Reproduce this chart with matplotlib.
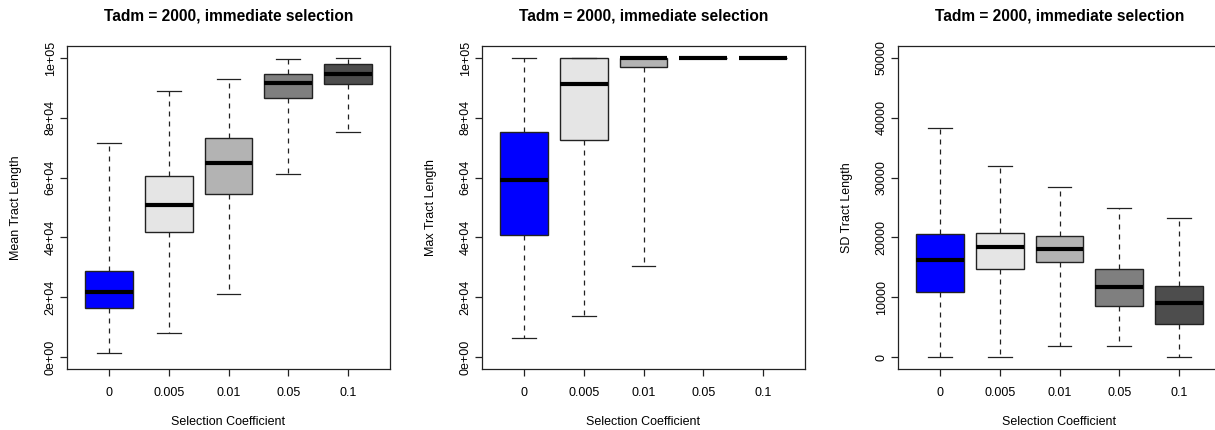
import matplotlib
matplotlib.use("Agg")
import matplotlib.pyplot as plt

plt.rcParams['font.family'] = ['Liberation Sans', 'DejaVu Sans']

coef_labels = ['0', '0.005', '0.01', '0.05', '0.1']
box_colors = ['#0000FF', '#E5E5E5', '#B3B3B3', '#7F7F7F', '#4D4D4D']

# whisker low, q1, median, q3, whisker high for each selection coefficient
mean_low = [1300, 8200, 21100, 61200, 75400]
mean_q1 = [16400, 41700, 54500, 86600, 91300]
mean_med = [21700, 50900, 64900, 91600, 94700]
mean_q3 = [28900, 60600, 73200, 94600, 97900]
mean_high = [71700, 89100, 93000, 99800, 100000]

max_low = [6500, 13600, 30500, 100000, 100000]
max_q1 = [40800, 72600, 97000, 100000, 100000]
max_med = [59100, 91300, 100000, 100000, 100000]
max_q3 = [75300, 100000, 100000, 100000, 100000]
max_high = [100000, 100000, 100000, 100000, 100000]

sd_low = [0, 0, 1900, 1900, 0]
sd_q1 = [10900, 14800, 15900, 8500, 5600]
sd_med = [16200, 18400, 18100, 11700, 9000]
sd_q3 = [20500, 20800, 20300, 14800, 11800]
sd_high = [38300, 32000, 28400, 25000, 23300]

big_ticks = [0, 20000, 40000, 60000, 80000, 100000]
big_ticklabels = ['0e+00', '2e+04', '4e+04', '6e+04', '8e+04', '1e+05']
sd_ticks = [0, 10000, 20000, 30000, 40000, 50000]
sd_ticklabels = ['0', '10000', '20000', '30000', '40000', '50000']

title = 'Tadm = 2000, immediate selection'
W, H = 1215, 430


def make_stats(low, q1, med, q3, high):
    return [dict(whislo=a, q1=b, med=c, q3=d, whishi=e, fliers=[])
            for a, b, c, d, e in zip(low, q1, med, q3, high)]


def draw_panel(left, stats, ylabel, ylim, ticks, ticklabels):
    ax = fig.add_axes([left / W, (H - 369) / H, 323 / W, 323 / H])
    bp = ax.bxp(stats, positions=range(1, 6), widths=0.8, capwidths=0.4,
                patch_artist=True, showfliers=False,
                boxprops=dict(edgecolor='#222222', linewidth=1.0),
                whiskerprops=dict(color='#222222', linewidth=0.9,
                                  linestyle=(0, (4, 4))),
                capprops=dict(color='#222222', linewidth=0.9),
                medianprops=dict(color='black', linewidth=3.0,
                                 solid_capstyle='butt'))
    for patch, col in zip(bp['boxes'], box_colors):
        patch.set_facecolor(col)
    ax.set_xlim(0.3, 5.7)
    ax.set_ylim(*ylim)
    ax.set_xticks(range(1, 6))
    ax.set_xticklabels(coef_labels, fontsize=9)
    ax.set_yticks(ticks)
    ax.set_yticklabels(ticklabels, fontsize=9, rotation=90, va='center')
    ax.tick_params(direction='out', length=5, width=0.9, color='#222222')
    ax.tick_params(axis='x', pad=8)
    ax.tick_params(axis='y', pad=2.5)
    for sp in ax.spines.values():
        sp.set_color('#222222')
        sp.set_linewidth(0.9)
    ax.set_xlabel('Selection Coefficient', fontsize=9, labelpad=12)
    ax.set_ylabel(ylabel, fontsize=9, labelpad=16)
    ax.set_title(title, fontsize=11.2, fontweight='bold', pad=18.5)
    return ax


fig = plt.figure(figsize=(W / 100, H / 100), dpi=100)

draw_panel(67, make_stats(mean_low, mean_q1, mean_med, mean_q3, mean_high),
           'Mean Tract Length', (-4000, 104000), big_ticks, big_ticklabels)
draw_panel(482, make_stats(max_low, max_q1, max_med, max_q3, max_high),
           'Max Tract Length', (-4000, 104000), big_ticks, big_ticklabels)
draw_panel(898, make_stats(sd_low, sd_q1, sd_med, sd_q3, sd_high),
           'SD Tract Length', (-2000, 52000), sd_ticks, sd_ticklabels)

fig.savefig('out.png', dpi=100)
